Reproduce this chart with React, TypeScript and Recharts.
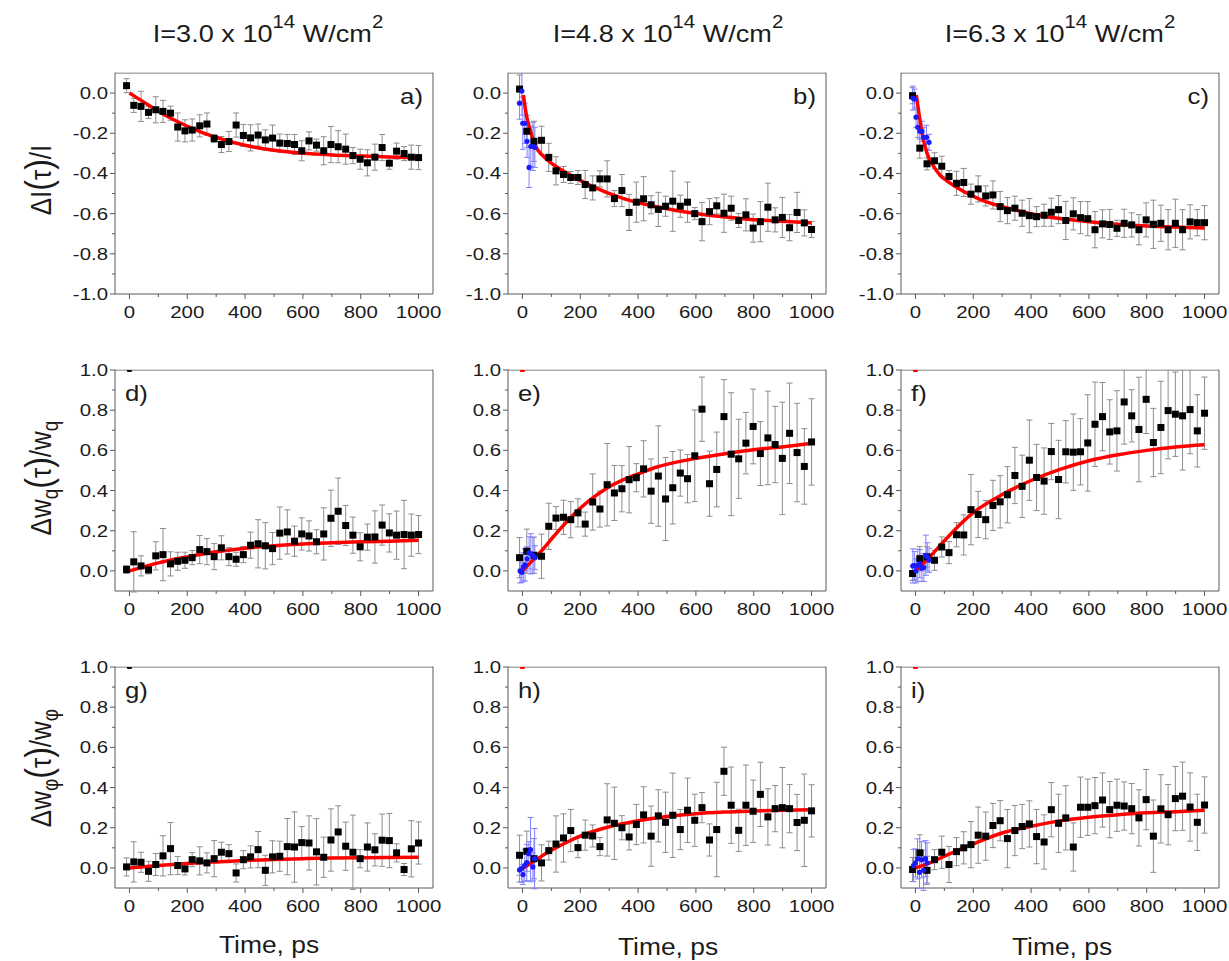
import React from "react";
import { ComposedChart, Scatter, Line, XAxis, YAxis, ErrorBar, ReferenceArea } from "recharts";

// shared delay grid (ps)
const TIMES = [-10, 15, 40, 66, 91, 116, 142, 167, 192, 217, 243, 268, 293, 318, 344, 369, 394, 419, 445, 470, 495, 520, 546, 571, 596, 621, 647, 672, 697, 722, 748, 773, 798, 823, 849, 874, 899, 924, 950, 975, 1000];

const X_TICKS = [0, 100, 200, 300, 400, 500, 600, 700, 800, 900, 1000];
const Y_TICKS_TOP = [-1, -0.9, -0.8, -0.7, -0.6, -0.5, -0.4, -0.3, -0.2, -0.1, 0];
const Y_TICKS_LOW = [0, 0.1, 0.2, 0.3, 0.4, 0.5, 0.6, 0.7, 0.8, 0.9, 1];

const TITLES = ["I=3.0 x 10", "I=4.8 x 10", "I=6.3 x 10"];
const PANEL_LETTERS = ["a)", "b)", "c)", "d)", "e)", "f)", "g)", "h)", "i)"];

// a) dI/I, 3.0e14
const A_VALUES = [0.037, -0.061, -0.066, -0.096, -0.083, -0.091, -0.1, -0.169, -0.188, -0.184, -0.163, -0.154, -0.226, -0.256, -0.241, -0.159, -0.211, -0.223, -0.209, -0.233, -0.224, -0.249, -0.251, -0.256, -0.287, -0.238, -0.259, -0.287, -0.256, -0.267, -0.279, -0.311, -0.329, -0.347, -0.319, -0.271, -0.349, -0.289, -0.301, -0.319, -0.321];
const A_ERRORS = [0.035, 0.035, 0.075, 0.03, 0.065, 0.055, 0.035, 0.07, 0.055, 0.055, 0.055, 0.055, 0.02, 0.04, 0.05, 0.06, 0.055, 0.065, 0.055, 0.05, 0.065, 0.045, 0.045, 0.05, 0.05, 0.045, 0.03, 0.07, 0.09, 0.08, 0.075, 0.04, 0.05, 0.065, 0.065, 0.065, 0.03, 0.04, 0.035, 0.06, 0.06];
const A_FIT_T = [0, 50, 100, 150, 200, 250, 300, 400, 500, 600, 700, 800, 900, 1000];
const A_FIT_V = [0, -0.045, -0.09, -0.13, -0.165, -0.195, -0.22, -0.26, -0.285, -0.3, -0.308, -0.313, -0.318, -0.322];

// b) dI/I, 4.8e14
const B_VALUES = [0.02, -0.19, -0.24, -0.235, -0.32, -0.387, -0.405, -0.42, -0.42, -0.455, -0.472, -0.427, -0.427, -0.525, -0.485, -0.594, -0.543, -0.526, -0.556, -0.579, -0.563, -0.538, -0.563, -0.543, -0.6, -0.64, -0.59, -0.561, -0.598, -0.573, -0.634, -0.606, -0.672, -0.64, -0.568, -0.631, -0.619, -0.67, -0.594, -0.646, -0.679];
const B_ERRORS = [0.07, 0.08, 0.1, 0.07, 0.07, 0.07, 0.04, 0.03, 0.035, 0.07, 0.06, 0.04, 0.09, 0.04, 0.08, 0.09, 0.1, 0.11, 0.045, 0.085, 0.05, 0.15, 0.055, 0.1, 0.03, 0.095, 0.065, 0.04, 0.095, 0.06, 0.035, 0.08, 0.07, 0.1, 0.12, 0.06, 0.1, 0.065, 0.1, 0.065, 0.04];
const B_BLUE_T = [-10, -2, 1, 8, 16, 23, 29, 36, 43];
const B_BLUE_V = [-0.05, 0.01, -0.15, -0.15, -0.24, -0.37, -0.265, -0.265, -0.27];
const B_BLUE_E = [0.08, 0.12, 0.13, 0.1, 0.08, 0.1, 0.1, 0.12, 0.1];
const B_FIT_T = [3, 15, 27, 44, 73, 119, 177, 234, 350, 465, 581, 696, 812, 927, 1000];
const B_FIT_V = [-0.01, -0.12, -0.185, -0.26, -0.315, -0.368, -0.417, -0.459, -0.525, -0.566, -0.596, -0.616, -0.632, -0.64, -0.646];

// c) dI/I, 6.3e14
const C_VALUES = [-0.013, -0.274, -0.352, -0.337, -0.364, -0.415, -0.449, -0.445, -0.503, -0.477, -0.512, -0.507, -0.565, -0.585, -0.573, -0.598, -0.61, -0.615, -0.608, -0.593, -0.58, -0.634, -0.601, -0.62, -0.625, -0.68, -0.651, -0.654, -0.673, -0.648, -0.656, -0.68, -0.631, -0.653, -0.648, -0.68, -0.648, -0.68, -0.641, -0.645, -0.645];
const C_ERRORS = [0.04, 0.05, 0.03, 0.04, 0.05, 0.03, 0.06, 0.07, 0.05, 0.065, 0.05, 0.07, 0.075, 0.065, 0.06, 0.065, 0.085, 0.05, 0.055, 0.07, 0.07, 0.095, 0.08, 0.08, 0.085, 0.09, 0.07, 0.075, 0.04, 0.07, 0.06, 0.075, 0.085, 0.12, 0.09, 0.1, 0.12, 0.1, 0.085, 0.065, 0.085];
const C_BLUE_T = [-9, -3, 2, 8, 15, 22, 29, 38, 47];
const C_BLUE_V = [-0.025, -0.03, -0.12, -0.17, -0.19, -0.19, -0.22, -0.22, -0.245];
const C_BLUE_E = [0.06, 0.05, 0.05, 0.05, 0.04, 0.05, 0.05, 0.06, 0.04];
const C_FIT_T = [3, 12, 23, 40, 63, 86, 109, 167, 225, 340, 455, 570, 685, 800, 916, 1000];
const C_FIT_V = [-0.01, -0.1, -0.2, -0.3, -0.365, -0.41, -0.437, -0.49, -0.53, -0.58, -0.615, -0.635, -0.651, -0.661, -0.668, -0.671];

// d) dwq/wq, 3.0e14
const D_VALUES = [0.007, 0.045, 0.025, 0.005, 0.075, 0.081, 0.035, 0.048, 0.053, 0.066, 0.106, 0.096, 0.071, 0.115, 0.071, 0.058, 0.081, 0.128, 0.135, 0.125, 0.111, 0.188, 0.194, 0.148, 0.184, 0.174, 0.145, 0.184, 0.262, 0.297, 0.226, 0.178, 0.12, 0.168, 0.169, 0.228, 0.189, 0.178, 0.181, 0.178, 0.181];
const D_ERRORS = [0.02, 0.15, 0.05, 0.02, 0.07, 0.13, 0.06, 0.045, 0.04, 0.035, 0.07, 0.065, 0.065, 0.06, 0.045, 0.035, 0.04, 0.065, 0.12, 0.115, 0.08, 0.13, 0.11, 0.075, 0.08, 0.075, 0.06, 0.13, 0.14, 0.165, 0.1, 0.09, 0.07, 0.065, 0.13, 0.1, 0.095, 0.12, 0.17, 0.105, 0.095];
const D_FIT_T = [0, 50, 100, 200, 300, 400, 500, 600, 700, 800, 900, 1000];
const D_FIT_V = [0, 0.02, 0.04, 0.07, 0.095, 0.113, 0.125, 0.134, 0.14, 0.145, 0.148, 0.152];

// e) dwq/wq, 4.8e14
const E_VALUES = [0.066, 0.098, 0.078, 0.073, 0.222, 0.263, 0.267, 0.255, 0.289, 0.233, 0.343, 0.308, 0.429, 0.388, 0.409, 0.454, 0.464, 0.508, 0.397, 0.472, 0.358, 0.414, 0.487, 0.459, 0.573, 0.805, 0.434, 0.505, 0.768, 0.581, 0.558, 0.636, 0.719, 0.584, 0.662, 0.629, 0.56, 0.685, 0.589, 0.52, 0.642];
const E_ERRORS = [0.1, 0.11, 0.09, 0.11, 0.115, 0.057, 0.085, 0.09, 0.07, 0.06, 0.14, 0.09, 0.205, 0.137, 0.115, 0.165, 0.07, 0.14, 0.16, 0.25, 0.207, 0.18, 0.115, 0.12, 0.228, 0.16, 0.162, 0.186, 0.184, 0.306, 0.197, 0.153, 0.186, 0.159, 0.233, 0.19, 0.28, 0.25, 0.245, 0.188, 0.215];
const E_BLUE_T = [-8, -2, 3, 9, 16, 23, 29, 36, 43];
const E_BLUE_V = [0, -0.007, 0.02, 0.03, 0.06, 0.09, 0.085, 0.078, 0.066];
const E_BLUE_E = [0.06, 0.05, 0.07, 0.08, 0.06, 0.08, 0.1, 0.09, 0.06];
const E_FIT_T = [0, 30, 61, 119, 177, 234, 292, 350, 408, 465, 581, 696, 812, 927, 1000];
const E_FIT_V = [0, 0.045, 0.092, 0.19, 0.281, 0.354, 0.412, 0.454, 0.487, 0.517, 0.555, 0.582, 0.605, 0.622, 0.635];

// f) dwq/wq, 6.3e14
const F_VALUES = [-0.013, 0.061, 0.07, 0.053, 0.119, 0.091, 0.18, 0.179, 0.305, 0.281, 0.255, 0.326, 0.344, 0.379, 0.475, 0.421, 0.551, 0.465, 0.447, 0.594, 0.455, 0.593, 0.591, 0.593, 0.637, 0.73, 0.768, 0.692, 0.697, 0.841, 0.772, 0.704, 0.854, 0.639, 0.714, 0.798, 0.78, 0.772, 0.803, 0.697, 0.785];
const F_ERRORS = [0.035, 0.06, 0.05, 0.05, 0.05, 0.055, 0.06, 0.1, 0.175, 0.115, 0.095, 0.125, 0.13, 0.14, 0.14, 0.155, 0.2, 0.165, 0.165, 0.14, 0.195, 0.155, 0.19, 0.165, 0.24, 0.21, 0.17, 0.16, 0.2, 0.21, 0.13, 0.26, 0.17, 0.17, 0.23, 0.24, 0.21, 0.27, 0.22, 0.18, 0.18];
const F_BLUE_T = [-9, -3, 2, 8, 15, 22, 29, 36, 41, 47];
const F_BLUE_V = [0.025, 0.026, 0, 0.028, 0.036, 0.013, 0.017, 0.078, 0.07, 0.053];
const F_BLUE_E = [0.085, 0.07, 0.06, 0.08, 0.07, 0.065, 0.07, 0.1, 0.07, 0.06];
const F_FIT_T = [0, 50, 100, 150, 200, 300, 400, 500, 600, 700, 800, 900, 1000];
const F_FIT_V = [0, 0.07, 0.15, 0.225, 0.29, 0.38, 0.45, 0.505, 0.548, 0.578, 0.6, 0.617, 0.628];

// g) dwphi/wphi, 3.0e14
const G_VALUES = [0.005, 0.03, 0.028, -0.017, 0.017, 0.06, 0.096, 0.012, -0.005, 0.041, 0.035, 0.025, 0.046, 0.078, 0.071, -0.025, 0.041, 0.055, 0.091, -0.012, 0.055, 0.058, 0.106, 0.104, 0.126, 0.124, 0.08, 0.053, 0.139, 0.179, 0.108, 0.078, 0.046, 0.104, 0.09, 0.138, 0.136, 0.075, -0.008, 0.095, 0.124];
const G_ERRORS = [0.045, 0.1, 0.05, 0.05, 0.055, 0.1, 0.13, 0.045, 0.03, 0.035, 0.07, 0.05, 0.09, 0.05, 0.045, 0.045, 0.045, 0.055, 0.09, 0.075, 0.08, 0.075, 0.14, 0.175, 0.08, 0.135, 0.165, 0.1, 0.155, 0.13, 0.12, 0.185, 0.045, 0.12, 0.08, 0.13, 0.135, 0.045, 0.03, 0.14, 0.105];
const G_FIT_T = [0, 100, 200, 300, 400, 500, 600, 700, 800, 900, 1000];
const G_FIT_V = [0, 0.012, 0.022, 0.03, 0.037, 0.042, 0.046, 0.049, 0.051, 0.052, 0.053];

// h) dwphi/wphi, 4.8e14
const H_VALUES = [0.063, 0.083, 0.046, 0.025, 0.086, 0.119, 0.149, 0.186, 0.101, 0.163, 0.159, 0.106, 0.239, 0.222, 0.2, 0.154, 0.216, 0.264, 0.158, 0.259, 0.227, 0.262, 0.191, 0.287, 0.237, 0.3, 0.139, 0.191, 0.481, 0.312, 0.187, 0.312, 0.282, 0.366, 0.254, 0.295, 0.3, 0.295, 0.226, 0.237, 0.284];
const H_ERRORS = [0.1, 0.1, 0.1, 0.09, 0.047, 0.14, 0.12, 0.105, 0.05, 0.075, 0.055, 0.045, 0.18, 0.18, 0.06, 0.065, 0.1, 0.14, 0.15, 0.13, 0.15, 0.21, 0.1, 0.16, 0.13, 0.075, 0.08, 0.235, 0.12, 0.19, 0.105, 0.2, 0.155, 0.16, 0.14, 0.115, 0.2, 0.12, 0.14, 0.23, 0.13];
const H_BLUE_T = [-10, -3, 2, 8, 15, 22, 28, 36, 42];
const H_BLUE_V = [-0.01, -0.003, -0.033, 0.013, 0.027, 0.071, 0.091, 0.005, 0.046];
const H_BLUE_E = [0.06, 0.07, 0.05, 0.08, 0.09, 0.06, 0.16, 0.07, 0.15];
const H_FIT_T = [0, 50, 100, 150, 200, 300, 400, 500, 600, 700, 800, 900, 1000];
const H_FIT_V = [-0.003, 0.043, 0.088, 0.125, 0.158, 0.205, 0.235, 0.256, 0.27, 0.278, 0.283, 0.287, 0.29];

// i) dwphi/wphi, 6.3e14
const I_VALUES = [-0.008, 0.075, -0.012, 0.041, 0.078, 0.017, 0.081, 0.1, 0.116, 0.163, 0.158, 0.211, 0.235, 0.146, 0.186, 0.206, 0.219, 0.156, 0.129, 0.29, 0.222, 0.249, 0.104, 0.302, 0.302, 0.31, 0.338, 0.29, 0.312, 0.308, 0.295, 0.249, 0.34, 0.158, 0.294, 0.265, 0.345, 0.357, 0.303, 0.227, 0.313];
const I_ERRORS = [0.06, 0.09, 0.07, 0.05, 0.08, 0.09, 0.07, 0.08, 0.115, 0.14, 0.12, 0.11, 0.1, 0.145, 0.125, 0.11, 0.115, 0.135, 0.135, 0.135, 0.145, 0.16, 0.12, 0.15, 0.14, 0.14, 0.135, 0.14, 0.13, 0.12, 0.125, 0.14, 0.15, 0.18, 0.17, 0.15, 0.16, 0.17, 0.17, 0.14, 0.14];
const I_BLUE_T = [-7, 0, 7, 14, 21, 28, 35, 40];
const I_BLUE_V = [0.012, 0.025, 0.045, -0.022, 0.041, -0.012, 0.046, 0.025];
const I_BLUE_E = [0.08, 0.07, 0.1, 0.08, 0.09, 0.1, 0.09, 0.1];
const I_FIT_T = [0, 50, 100, 150, 200, 300, 400, 500, 600, 700, 800, 900, 1000];
const I_FIT_V = [0, 0.025, 0.058, 0.09, 0.12, 0.174, 0.207, 0.234, 0.252, 0.264, 0.274, 0.28, 0.287];

// clipped marks sitting on the top edge of the lower panels
const EDGE_T = [0];
const EDGE_V = [1];

type Pt = { t: number; v: number; e?: number };
const zip = (t: number[], v: number[], e?: number[]): Pt[] =>
  t.map((x, i) => ({ t: x, v: v[i], e: e ? e[i] : undefined }));

type PanelDef = {
  row: number;
  col: number;
  values: number[];
  errors: number[];
  fitT: number[];
  fitV: number[];
  blueT?: number[];
  blueV?: number[];
  blueE?: number[];
  edge?: string;
};

const PANELS: PanelDef[] = [
  { row: 0, col: 0, values: A_VALUES, errors: A_ERRORS, fitT: A_FIT_T, fitV: A_FIT_V },
  { row: 0, col: 1, values: B_VALUES, errors: B_ERRORS, fitT: B_FIT_T, fitV: B_FIT_V, blueT: B_BLUE_T, blueV: B_BLUE_V, blueE: B_BLUE_E },
  { row: 0, col: 2, values: C_VALUES, errors: C_ERRORS, fitT: C_FIT_T, fitV: C_FIT_V, blueT: C_BLUE_T, blueV: C_BLUE_V, blueE: C_BLUE_E },
  { row: 1, col: 0, values: D_VALUES, errors: D_ERRORS, fitT: D_FIT_T, fitV: D_FIT_V, edge: "#111" },
  { row: 1, col: 1, values: E_VALUES, errors: E_ERRORS, fitT: E_FIT_T, fitV: E_FIT_V, blueT: E_BLUE_T, blueV: E_BLUE_V, blueE: E_BLUE_E, edge: "#f00" },
  { row: 1, col: 2, values: F_VALUES, errors: F_ERRORS, fitT: F_FIT_T, fitV: F_FIT_V, blueT: F_BLUE_T, blueV: F_BLUE_V, blueE: F_BLUE_E, edge: "#f00" },
  { row: 2, col: 0, values: G_VALUES, errors: G_ERRORS, fitT: G_FIT_T, fitV: G_FIT_V, edge: "#111" },
  { row: 2, col: 1, values: H_VALUES, errors: H_ERRORS, fitT: H_FIT_T, fitV: H_FIT_V, blueT: H_BLUE_T, blueV: H_BLUE_V, blueE: H_BLUE_E, edge: "#f00" },
  { row: 2, col: 2, values: I_VALUES, errors: I_ERRORS, fitT: I_FIT_T, fitV: I_FIT_V, blueT: I_BLUE_T, blueV: I_BLUE_V, blueE: I_BLUE_E, edge: "#f00" },
];

// layout
const COL_LEFT = [115, 508, 901];
const ROW_TOP = [73, 370, 667];
const PLOT_W = 318;
const PLOT_H = 221;
const ML = 70;
const MT = 10;
const MR = 14;
const MB = 36;
const X_DOMAIN = [-50, 1050];

const FONT = "'Liberation Sans', Arial, sans-serif";
const FRAME = "#5a5a5a";
const TEXT = "#1b1b1b";
const SX = 1.2; // the figure is stretched horizontally

function XTick(props: any) {
  const x = props.x;
  const v = props.payload.value;
  const base = MT + PLOT_H;
  const major = v % 200 === 0;
  return (
    <g>
      <line x1={x} x2={x} y1={base} y2={base + (major ? 5 : 3)} stroke={FRAME} />
      {major && (
        <text transform={`translate(${x} ${base + 24}) scale(${SX} 1)`} textAnchor="middle" fontSize={17} fontFamily={FONT} fill={TEXT}>
          {v}
        </text>
      )}
    </g>
  );
}

function YTick(props: any) {
  const y = props.y;
  const v = props.payload.value;
  const major = Math.round(v * 10) % 2 === 0;
  return (
    <g>
      <line x1={ML} x2={ML - (major ? 5 : 3)} y1={y} y2={y} stroke={FRAME} />
      {major && (
        <text transform={`translate(${ML - 7} ${y + 6}) scale(${SX} 1)`} textAnchor="end" fontSize={17} fontFamily={FONT} fill={TEXT}>
          {v.toFixed(1)}
        </text>
      )}
    </g>
  );
}

const Square = (p: any) => <rect x={p.cx - 3.5} y={p.cy - 3.5} width={7} height={7} fill="#000" />;
const BlueDot = (p: any) => <circle cx={p.cx} cy={p.cy} r={2.6} fill="#1a1aff" />;

function Panel({ p }: { p: PanelDef }) {
  const yDomain = p.row === 0 ? [-1, 0.1] : [-0.1, 1];
  const yTicks = p.row === 0 ? Y_TICKS_TOP : Y_TICKS_LOW;
  const black = zip(TIMES, p.values, p.errors);
  const fit = zip(p.fitT, p.fitV);
  const blue = p.blueT ? zip(p.blueT, p.blueV!, p.blueE) : null;
  const edgeColor = p.edge;
  return (
    <div style={{ position: "absolute", left: COL_LEFT[p.col] - ML, top: ROW_TOP[p.row] - MT }}>
      <ComposedChart width={ML + PLOT_W + MR} height={MT + PLOT_H + MB} margin={{ top: MT, right: MR, bottom: 0, left: 0 }}>
        <XAxis
          dataKey="t"
          type="number"
          domain={X_DOMAIN}
          ticks={X_TICKS}
          interval={0}
          allowDataOverflow
          axisLine={false}
          tickLine={false}
          tickSize={0}
          tickMargin={0}
          height={MB}
          tick={(props: any) => <XTick {...props} />}
        />
        <YAxis
          dataKey="v"
          type="number"
          domain={yDomain}
          ticks={yTicks}
          interval={0}
          allowDataOverflow
          axisLine={false}
          tickLine={false}
          tickSize={0}
          tickMargin={0}
          width={ML}
          tick={(props: any) => <YTick {...props} />}
        />
        <ReferenceArea x1={X_DOMAIN[0]} x2={X_DOMAIN[1]} y1={yDomain[0]} y2={yDomain[1]} fill="none" fillOpacity={0} stroke={FRAME} strokeWidth={1} />
        <Scatter data={black} shape={Square} isAnimationActive={false}>
          <ErrorBar dataKey="e" direction="y" width={3} stroke="#8d8d8d" strokeWidth={1} isAnimationActive={false} />
        </Scatter>
        {blue && (
          <Scatter data={blue} shape={BlueDot} isAnimationActive={false}>
            <ErrorBar dataKey="e" direction="y" width={3} stroke="#8080ff" strokeWidth={1} isAnimationActive={false} />
          </Scatter>
        )}
        {edgeColor && (
          <Scatter
            data={zip(EDGE_T, EDGE_V)}
            isAnimationActive={false}
            shape={(s: any) => <rect x={s.cx - 2.5} y={s.cy - 2} width={5} height={4} rx={1} fill={edgeColor} />}
          />
        )}
        <Line data={fit} dataKey="v" type="monotone" stroke="#ff0000" strokeWidth={3.5} dot={false} activeDot={false} isAnimationActive={false} />
      </ComposedChart>
    </div>
  );
}

function Overlay() {
  const titleCenters = [268, 668, 1060];
  const timeCenters = [269, 668, 1062];
  const timeBase = [953, 955, 955];
  const labelCenters = [180, 478, 768];
  const sub = { fontSize: 19 };
  return (
    <svg width={1229} height={961} style={{ position: "absolute", left: 0, top: 0, pointerEvents: "none" }} fontFamily={FONT}>
      {/* error bars are clipped at the top edge of each frame */}
      {PANELS.map((p, i) => (
        <rect key={`m${i}`} x={COL_LEFT[p.col] + 1} y={ROW_TOP[p.row] - 18} width={PLOT_W - 2} height={17.5} fill="#fff" />
      ))}
      {TITLES.map((t, i) => (
        <text key={t} transform={`translate(${titleCenters[i]} 42) scale(1.13 1)`} textAnchor="middle" fontSize={24} fill={TEXT}>
          {t}
          <tspan dy={-14} fontSize={18}>14</tspan>
          <tspan dy={14}> W/cm</tspan>
          <tspan dy={-14} fontSize={18}>2</tspan>
        </text>
      ))}
      {PANEL_LETTERS.map((l, i) => {
        const row = Math.floor(i / 3);
        const col = i % 3;
        const y = ROW_TOP[row] + 31;
        const x = row === 0 ? COL_LEFT[col] + PLOT_W - 10 : COL_LEFT[col] + 10;
        return (
          <text key={l} transform={`translate(${x} ${y}) scale(1.12 1)`} textAnchor={row === 0 ? "end" : "start"} fontSize={23} fill={TEXT}>
            {l}
          </text>
        );
      })}
      {timeCenters.map((c, i) => (
        <text key={i} transform={`translate(${c} ${timeBase[i]}) scale(1.1 1)`} textAnchor="middle" fontSize={24} fill={TEXT}>
          Time, ps
        </text>
      ))}
      <text transform={`translate(51 ${labelCenters[0]}) rotate(-90) scale(1 1.15)`} textAnchor="middle" fontSize={26} fill={TEXT}>
        ΔI<tspan fontSize={32}>(</tspan>τ<tspan fontSize={32}>)</tspan>/I
      </text>
      <text transform={`translate(51 ${labelCenters[1]}) rotate(-90) scale(1 1.15)`} textAnchor="middle" fontSize={26} fill={TEXT}>
        Δw<tspan dy={6} style={sub}>q</tspan>
        <tspan dy={-6} fontSize={32}>(</tspan>τ<tspan fontSize={32}>)</tspan>/w<tspan dy={6} style={sub}>q</tspan>
      </text>
      <text transform={`translate(51 ${labelCenters[2]}) rotate(-90) scale(1 1.15)`} textAnchor="middle" fontSize={26} fill={TEXT}>
        Δw<tspan dy={6} style={sub}>φ</tspan>
        <tspan dy={-6} fontSize={32}>(</tspan>τ<tspan fontSize={32}>)</tspan>/w<tspan dy={6} style={sub}>φ</tspan>
      </text>
    </svg>
  );
}

export default function App() {
  return (
    <div style={{ position: "absolute", left: 0, top: 0, width: 1229, height: 961, overflow: "hidden", background: "#fff" }}>
      {PANELS.map((p, i) => (
        <Panel key={i} p={p} />
      ))}
      <Overlay />
    </div>
  );
}
